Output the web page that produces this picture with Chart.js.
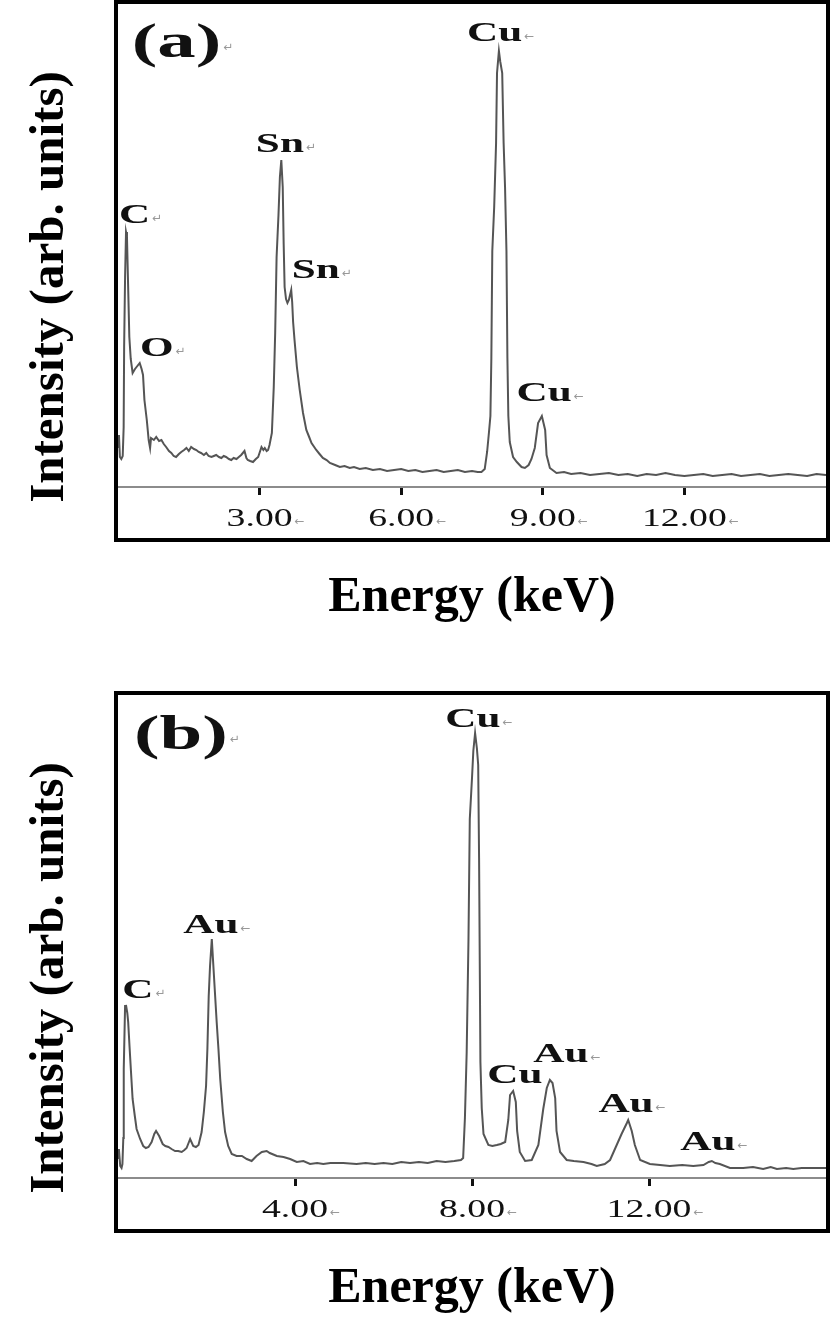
<!DOCTYPE html>
<html>
<head>
<meta charset="utf-8">
<title>EDS spectra (a) and (b)</title>
<script src="https://cdn.jsdelivr.net/npm/chart.js@4.4.1/dist/chart.umd.min.js"></script>
<style>
  html, body { margin: 0; padding: 0; background: #fff; }
  #wrap { position: relative; width: 832px; height: 1342px; overflow: hidden; }
  canvas { position: absolute; left: 0; }
  #specA { top: 0; }
  #specB { top: 691px; }
</style>
</head>
<body>
<div id="wrap">
  <canvas id="specA" width="832" height="670"></canvas>
  <canvas id="specB" width="832" height="651"></canvas>
</div>
<script>
// panel (a): energy (keV) and intensity (arb. units)
const energyA = [
  0.00, 0.02, 0.04, 0.07, 0.10, 0.12, 0.13, 0.15, 0.17, 0.19, 0.21, 0.24, 0.27, 0.31, 0.36, 0.41,
  0.46, 0.50, 0.53, 0.56, 0.61, 0.65, 0.68, 0.70, 0.76, 0.81, 0.87, 0.92, 0.97, 1.02, 1.08, 1.13,
  1.18, 1.23, 1.29, 1.34, 1.40, 1.45, 1.50, 1.55, 1.61, 1.66, 1.71, 1.76, 1.82, 1.87, 1.92, 1.98,
  2.03, 2.08, 2.14, 2.19, 2.24, 2.29, 2.35, 2.40, 2.45, 2.51, 2.56, 2.61, 2.68, 2.72, 2.75, 2.80,
  2.86, 2.92, 2.97, 3.04, 3.08, 3.11, 3.15, 3.18, 3.21, 3.26, 3.30, 3.33, 3.36, 3.40, 3.43, 3.46,
  3.49, 3.51, 3.53, 3.56, 3.59, 3.62, 3.67, 3.69, 3.71, 3.74, 3.79, 3.85, 3.92, 3.99, 4.05, 4.10,
  4.20, 4.27, 4.34, 4.42, 4.49, 4.60, 4.70, 4.80, 4.91, 5.00, 5.12, 5.25, 5.40, 5.55, 5.70, 5.85,
  6.00, 6.15, 6.30, 6.45, 6.60, 6.75, 6.90, 7.05, 7.20, 7.35, 7.50, 7.62, 7.70, 7.77, 7.82, 7.86,
  7.89, 7.91, 7.93, 7.97, 8.01, 8.03, 8.07, 8.10, 8.14, 8.17, 8.20, 8.23, 8.25, 8.27, 8.30, 8.37,
  8.45, 8.55, 8.62, 8.70, 8.76, 8.83, 8.90, 8.98, 9.05, 9.08, 9.15, 9.29, 9.45, 9.60, 9.80, 10.00,
  10.20, 10.40, 10.60, 10.80, 11.00, 11.20, 11.40, 11.60, 11.80, 12.00, 12.20, 12.40, 12.60, 12.80,
  13.00, 13.20, 13.40, 13.60, 13.80, 14.00, 14.20, 14.40, 14.60, 14.80, 15.00
];
const intensityA = [
  40, 52, 30, 28, 31, 60, 140, 210, 255, 250, 210, 150, 128, 114, 118, 121,
  124, 118, 112, 87, 67, 47, 39, 49, 47, 50, 46, 47, 43, 40, 36, 34,
  31, 30, 33, 35, 37, 39, 36, 40, 38, 37, 35, 34, 32, 34, 31, 30,
  31, 32, 30, 29, 31, 30, 28, 27, 29, 28, 30, 32, 36, 29, 27, 26,
  25, 28, 30, 40, 37, 39, 36, 37, 42, 54, 100, 154, 230, 272, 310, 327,
  300, 243, 200, 188, 184, 187, 197, 185, 165, 147, 120, 97, 74, 57, 50, 44,
  37, 33, 29, 27, 24, 22, 20, 21, 19, 20, 18, 19, 17, 18, 16, 17,
  18, 16, 17, 15, 16, 17, 15, 16, 17, 15, 16, 15, 15, 18, 35, 55,
  71, 129, 236, 280, 344, 414, 436, 425, 414, 344, 300, 236, 129, 71, 45, 30,
  25, 20, 19, 22, 28, 39, 64, 71, 57, 32, 19, 14, 15, 13, 14, 12,
  13, 14, 12, 13, 11, 13, 12, 14, 12, 11, 12, 13, 11, 12,
  13, 11, 12, 13, 11, 12, 13, 12, 11, 13, 12
];

// panel (b)
const energyB = [
  0.00, 0.02, 0.05, 0.08, 0.10, 0.12, 0.13, 0.16, 0.18, 0.21, 0.23, 0.26, 0.29, 0.33, 0.38, 0.42,
  0.50, 0.57, 0.63, 0.69, 0.76, 0.82, 0.86, 0.93, 1.01, 1.07, 1.14, 1.21, 1.29, 1.36, 1.44, 1.50,
  1.55, 1.63, 1.70, 1.76, 1.82, 1.89, 1.94, 1.99, 2.02, 2.05, 2.08, 2.12, 2.15, 2.19, 2.23, 2.27,
  2.31, 2.37, 2.42, 2.49, 2.57, 2.68, 2.80, 2.91, 3.02, 3.13, 3.25, 3.36, 3.43, 3.59, 3.74, 3.89,
  4.04, 4.19, 4.34, 4.50, 4.64, 4.80, 5.09, 5.39, 5.60, 5.80, 6.00, 6.20, 6.40, 6.60, 6.80, 7.00,
  7.20, 7.40, 7.60, 7.75, 7.80, 7.84, 7.88, 7.92, 7.95, 8.00, 8.03, 8.07, 8.11, 8.14, 8.16, 8.19,
  8.22, 8.26, 8.37, 8.46, 8.56, 8.65, 8.75, 8.82, 8.86, 8.93, 8.99, 9.02, 9.08, 9.20, 9.35, 9.50,
  9.61, 9.69, 9.76, 9.82, 9.88, 9.91, 9.99, 10.14, 10.30, 10.52, 10.70, 10.82, 11.00, 11.12, 11.27, 11.38,
  11.50, 11.53, 11.61, 11.68, 11.80, 12.02, 12.25, 12.47, 12.75, 13.00, 13.23, 13.35, 13.42, 13.50, 13.60, 13.83,
  14.13, 14.35, 14.58, 14.75, 14.89, 15.10, 15.26, 15.45, 15.64, 15.80, 16.00
];
const intensityB = [
  20, 29, 12, 10, 14, 40, 109, 172, 173, 165, 156, 132, 109, 79, 62, 49,
  39, 32, 30, 31, 36, 44, 47, 42, 34, 32, 31, 29, 27, 27, 26, 28,
  30, 39, 32, 31, 33, 46, 66, 92, 129, 182, 212, 239, 216, 186, 156, 129,
  99, 66, 46, 32, 24, 22, 22, 19, 17, 22, 26, 27, 25, 22, 21, 19,
  16, 17, 14, 15, 14, 15, 15, 14, 15, 14, 15, 14, 16, 15, 16, 15,
  17, 16, 17, 18, 20, 60, 126, 237, 359, 400, 427, 445, 430, 413, 320, 116,
  70, 44, 33, 32, 33, 34, 36, 58, 83, 87, 76, 47, 26, 17, 18, 33,
  69, 90, 98, 95, 80, 47, 26, 18, 17, 16, 14, 12, 14, 18, 33, 44,
  55, 58, 47, 33, 18, 14, 13, 12, 13, 12, 13, 16, 17, 15, 14, 10,
  10, 11, 9, 11, 9, 10, 9, 10, 10, 10, 10
];

// axis ticks (keV)
const ticksA = [3, 6, 9, 12];
const ticksB = [4, 8, 12];

// peak labels: text, energy (keV), height (arb. units), trailing mark
const labelsA = ['(a)', 'C', 'O', 'Sn', 'Sn', 'Cu', 'Cu'];
const labelEnergyA = [1.24, 0.35, 0.82, 3.43, 4.19, 7.98, 9.03];
const labelHeightA = [442, 271, 138, 342, 216, 453, 93];
const labelMarkA = ['↵', '↵', '↵', '↵', '↵', '←', '←'];

const labelsB = ['(b)', 'C', 'Au', 'Cu', 'Cu', 'Au', 'Au', 'Au'];
const labelEnergyB = [1.42, 0.45, 2.10, 8.02, 8.97, 10.01, 11.48, 13.33];
const labelHeightB = [441, 187, 252, 458, 102, 123, 73, 35];
const labelMarkB = ['↵', '↵', '←', '←', '', '←', '←', '←'];

const SERIF = '"Liberation Serif", "Times New Roman", serif';

// text that the original figure shows stretched sideways
function wideText(ctx, text, cx, cy, font, mark, sx) {
  ctx.save();
  ctx.font = font;
  const w = ctx.measureText(text).width * sx;
  ctx.translate(cx, cy);
  ctx.scale(sx, 1);
  ctx.fillStyle = '#111';
  ctx.textAlign = 'center';
  ctx.textBaseline = 'middle';
  ctx.fillText(text, 0, 0);
  ctx.restore();
  if (mark) {
    ctx.save();
    ctx.font = '12px "DejaVu Sans"';
    ctx.fillStyle = '#999';
    ctx.textAlign = 'left';
    ctx.textBaseline = 'middle';
    ctx.fillText(mark, cx + w / 2 + 2, cy + 3);
    ctx.restore();
  }
}

const spectrumText = {
  id: 'spectrumText',
  afterDraw(chart, args, opts) {
    const { ctx, scales: { x, y } } = chart;

    // frame round the panel
    ctx.save();
    ctx.strokeStyle = '#000';
    ctx.lineWidth = 4;
    ctx.strokeRect(116, 2, 712, 538);

    // vertical axis title
    ctx.translate(50, 287);
    ctx.rotate(-Math.PI / 2);
    ctx.font = 'bold 49px ' + SERIF;
    ctx.fillStyle = '#000';
    ctx.textAlign = 'center';
    ctx.textBaseline = 'middle';
    ctx.fillText('Intensity (arb. units)', 0, 0);
    ctx.restore();

    // tick labels
    x.ticks.forEach(t => {
      wideText(ctx, t.value.toFixed(2), x.getPixelForValue(t.value), x.top + 32,
        '26px ' + SERIF, '←', 1.45);
    });

    // peak labels
    opts.text.forEach((s, i) => {
      const big = s.startsWith('(');
      wideText(ctx, s, x.getPixelForValue(opts.energy[i]), y.getPixelForValue(opts.height[i]),
        (big ? 'bold 48px ' : 'bold 27px ') + SERIF, opts.mark[i], 1.6);
    });
  }
};

function drawSpectrum(canvas, energy, intensity, maxE, tickList, labels, padBottom) {
  return new Chart(canvas, {
    type: 'line',
    data: {
      datasets: [{
        data: energy.map((e, i) => ({ x: e, y: intensity[i] })),
        borderColor: '#555555',
        borderWidth: 2,
        pointRadius: 0,
        tension: 0,
        fill: false
      }]
    },
    options: {
      responsive: false,
      maintainAspectRatio: false,
      devicePixelRatio: 1,
      animation: false,
      events: [],
      layout: { padding: { left: 118, right: 6, top: 5, bottom: padBottom } },
      scales: {
        x: {
          type: 'linear',
          min: 0,
          max: maxE,
          afterBuildTicks: s => { s.ticks = tickList.map(v => ({ value: v })); },
          ticks: { display: false },
          grid: {
            drawOnChartArea: false,
            drawTicks: true,
            tickLength: 8,
            tickWidth: 3,
            tickColor: '#111'
          },
          border: { display: true, color: '#8c8c8c', width: 2 },
          title: {
            display: true,
            text: 'Energy (keV)',
            color: '#000',
            font: { family: SERIF, size: 50, weight: 'bold' },
            padding: { top: 73, bottom: 0 }
          }
        },
        y: { display: false, min: 0, max: 482 }
      },
      plugins: {
        legend: { display: false },
        tooltip: { enabled: false },
        spectrumText: labels
      }
    },
    plugins: [spectrumText]
  });
}

drawSpectrum(document.getElementById('specA'), energyA, intensityA, 15, ticksA,
  { text: labelsA, energy: labelEnergyA, height: labelHeightA, mark: labelMarkA }, 42);
drawSpectrum(document.getElementById('specB'), energyB, intensityB, 16, ticksB,
  { text: labelsB, energy: labelEnergyB, height: labelHeightB, mark: labelMarkB }, 23);
</script>
</body>
</html>
